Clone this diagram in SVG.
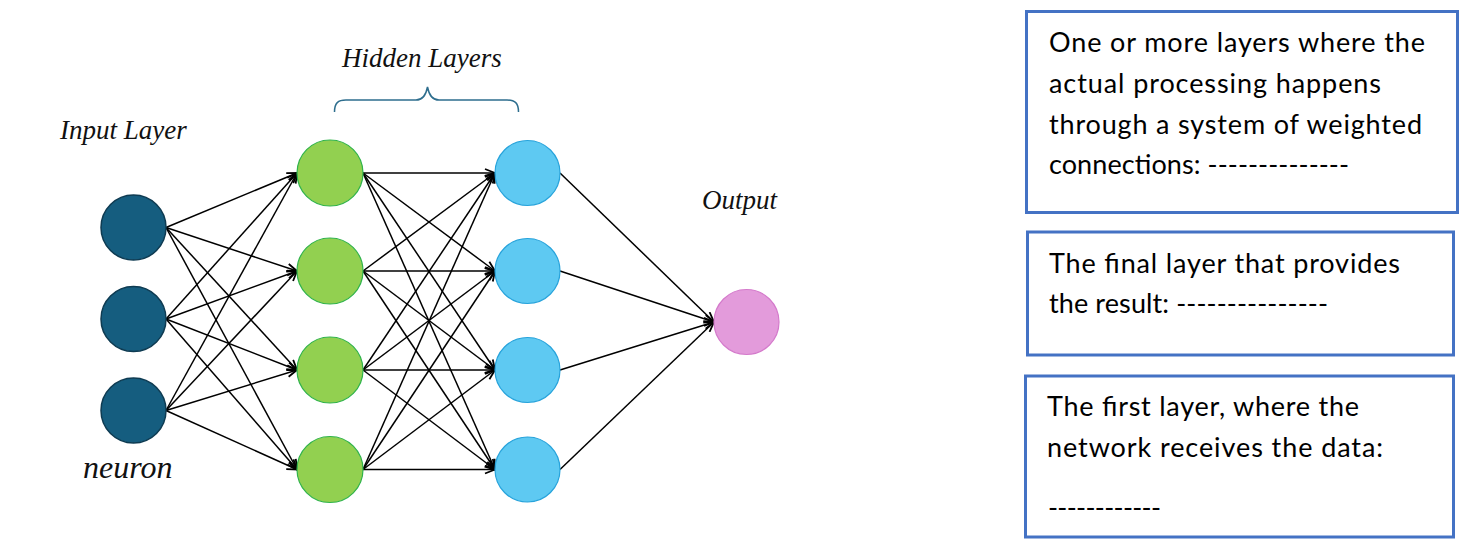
<svg xmlns="http://www.w3.org/2000/svg" width="1467" height="556" viewBox="0 0 1467 556">
<style>
.lbl{font-family:"Liberation Serif","Times New Roman",serif;font-style:italic;fill:#111;}
.txt{font-family:Lato,"Open Sans",sans-serif;font-size:27px;fill:#000;}
.box{fill:#fff;stroke:#4472c4;stroke-width:3;}
.in{fill:#155d7f;stroke:#0e3b52;stroke-width:1.5;}
.hg{fill:#92d050;stroke:#2fb34a;stroke-width:1.2;}
.hb{fill:#5ec9f2;stroke:#27a3db;stroke-width:1.2;}
.out{fill:#e39bdb;stroke:#d47acb;stroke-width:1.2;}
.c line{stroke:#000;stroke-width:1.5;marker-end:url(#ah);}
</style>
<defs>
<marker id="ah" viewBox="0 0 12 10" refX="11" refY="5" markerWidth="12" markerHeight="10" markerUnits="userSpaceOnUse" orient="auto">
<path d="M1,1 L11,5 L1,9" fill="none" stroke="#000" stroke-width="1.8"/>
</marker>
</defs>
<rect width="1467" height="556" fill="#fff"/>
<g id="connectors" class="c">
<line x1="166" y1="227.5" x2="297" y2="173"/>
<line x1="166" y1="227.5" x2="297" y2="271"/>
<line x1="166" y1="227.5" x2="297" y2="370"/>
<line x1="166" y1="227.5" x2="297" y2="469.5"/>
<line x1="166" y1="319" x2="297" y2="173"/>
<line x1="166" y1="319" x2="297" y2="271"/>
<line x1="166" y1="319" x2="297" y2="370"/>
<line x1="166" y1="319" x2="297" y2="469.5"/>
<line x1="166" y1="410.5" x2="297" y2="173"/>
<line x1="166" y1="410.5" x2="297" y2="271"/>
<line x1="166" y1="410.5" x2="297" y2="370"/>
<line x1="166" y1="410.5" x2="297" y2="469.5"/>
<line x1="363" y1="173" x2="495" y2="173"/>
<line x1="363" y1="173" x2="495" y2="271"/>
<line x1="363" y1="173" x2="495" y2="370"/>
<line x1="363" y1="173" x2="495" y2="469.5"/>
<line x1="363" y1="271" x2="495" y2="173"/>
<line x1="363" y1="271" x2="495" y2="271"/>
<line x1="363" y1="271" x2="495" y2="370"/>
<line x1="363" y1="271" x2="495" y2="469.5"/>
<line x1="363" y1="370" x2="495" y2="173"/>
<line x1="363" y1="370" x2="495" y2="271"/>
<line x1="363" y1="370" x2="495" y2="370"/>
<line x1="363" y1="370" x2="495" y2="469.5"/>
<line x1="363" y1="469.5" x2="495" y2="173"/>
<line x1="363" y1="469.5" x2="495" y2="271"/>
<line x1="363" y1="469.5" x2="495" y2="370"/>
<line x1="363" y1="469.5" x2="495" y2="469.5"/>
<line x1="560" y1="173" x2="714" y2="322"/>
<line x1="560" y1="271" x2="714" y2="322"/>
<line x1="560" y1="370" x2="714" y2="322"/>
<line x1="560" y1="469.5" x2="714" y2="322"/>
</g>
<g id="input-layer">
<circle id="in1" class="in" cx="133.5" cy="227.5" r="32.5"/>
<circle id="in2" class="in" cx="133.5" cy="319" r="32.5"/>
<circle id="in3" class="in" cx="133.5" cy="410.5" r="32.5"/>
</g>
<g id="hidden-layer-1">
<circle id="h1a" class="hg" cx="330" cy="173" r="33"/>
<circle id="h1b" class="hg" cx="330" cy="271" r="33"/>
<circle id="h1c" class="hg" cx="330" cy="370" r="33"/>
<circle id="h1d" class="hg" cx="330" cy="469.5" r="33"/>
</g>
<g id="hidden-layer-2">
<circle id="h2a" class="hb" cx="527.5" cy="173" r="32.5"/>
<circle id="h2b" class="hb" cx="527.5" cy="271" r="32.5"/>
<circle id="h2c" class="hb" cx="527.5" cy="370" r="32.5"/>
<circle id="h2d" class="hb" cx="527.5" cy="469.5" r="32.5"/>
</g>
<g id="output-node">
<circle id="out" class="out" cx="746.5" cy="322" r="32.5"/>
</g>
<g id="labels">
<text class="lbl" x="60" y="139" font-size="27">Input Layer</text>
<text class="lbl" x="342" y="67" font-size="27">Hidden Layers</text>
<text class="lbl" x="702" y="209" font-size="27">Output</text>
<text class="lbl" x="83" y="478" font-size="32">neuron</text>
<path id="brace" d="M334.5,112 C334.5,103 338,100 346,100 L416,100 C423,100 426,95 427.5,87 C429,95 432,100 439,100 L507,100 C515,100 518.5,103 518.5,112" fill="none" stroke="#2e6e8e" stroke-width="1.5"/>
</g>
<g id="box-hidden">
<rect class="box" x="1026.5" y="11.5" width="431" height="201"/>
<text class="txt" x="1049" y="52" textLength="376">One or more layers where the</text>
<text class="txt" x="1049" y="93" textLength="332">actual processing happens</text>
<text class="txt" x="1049" y="134" textLength="373">through a system of weighted</text>
<text class="txt" x="1049" y="174" textLength="300">connections: --------------</text>
</g>
<g id="box-output">
<rect class="box" x="1027.5" y="232" width="426" height="123"/>
<text class="txt" x="1049" y="273" textLength="351">The final layer that provides</text>
<text class="txt" x="1049" y="313" textLength="279">the result: ---------------</text>
</g>
<g id="box-input">
<rect class="box" x="1025.5" y="376" width="428" height="161"/>
<text class="txt" x="1047" y="416" textLength="312">The first layer, where the</text>
<text class="txt" x="1047" y="457" textLength="336">network receives the data:</text>
<text class="txt" x="1048" y="517" textLength="113">------------</text>
</g>
</svg>
